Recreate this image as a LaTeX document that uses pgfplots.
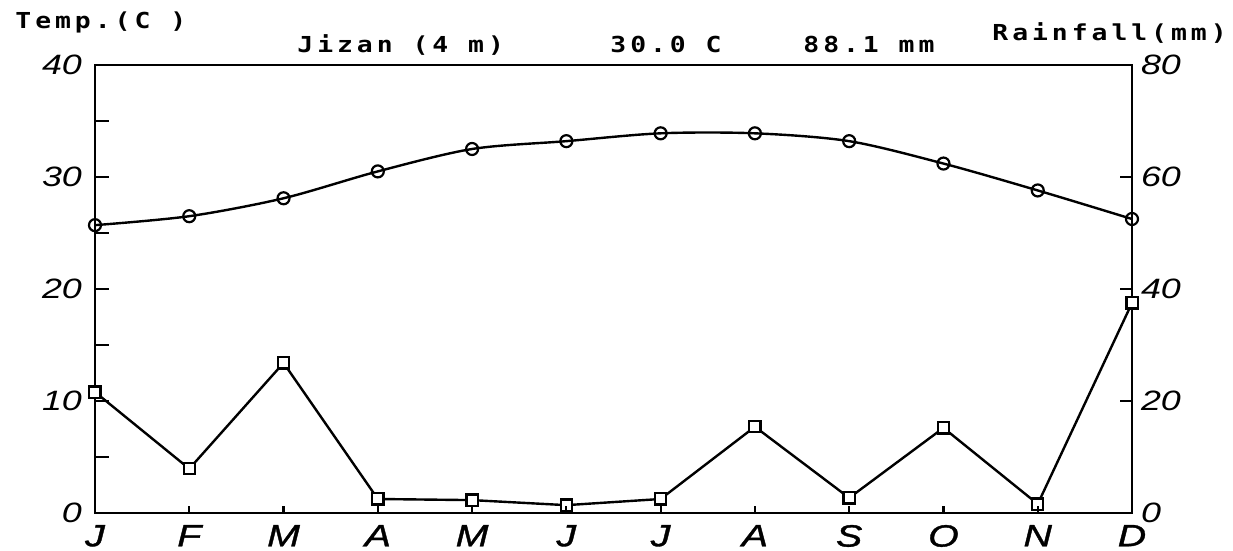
\documentclass[border=0pt]{standalone}
\usepackage{fontspec}
\usepackage{pgfplots}
\pgfplotsset{compat=1.18}
\newfontfamily\tickfont[FakeStretch=1.28]{Liberation Sans Italic}
\newfontfamily\monthfont[FakeStretch=1.28,FakeBold=1.2]{Liberation Sans Italic}
\newfontfamily\titlefont[FakeStretch=1.2,LetterSpace=18]{DejaVu Sans Mono Bold}
\pgfplotstableread{
m temp rain
0 25.7 21.6
1 26.5 7.9
2 28.1 26.8
3 30.5 2.5
4 32.5 2.3
5 33.2 1.4
6 33.9 2.5
7 33.9 15.4
8 33.2 2.7
9 31.2 15.2
10 28.8 1.6
11 26.25 37.5
}\datatab
\begin{document}
\begin{tikzpicture}
\useasboundingbox (-47.5pt,-19pt) rectangle (569pt,256.5pt);
\pgfplotsset{
  common/.style={
    at={(0pt,0pt)}, anchor=south west,
    scale only axis, width=518.5pt, height=224pt,
    xmin=0, xmax=11, clip=false,
    axis line style={line width=1.2pt},
    tick style={line width=1.1pt, black},
    tick align=inside,
    /pgf/number format/assume math mode=true,
  }
}
% left axis + frame + temperature
\begin{axis}[common,
  ymin=0, ymax=40,
  xtick=\empty,
  ytick={0,10,20,30,40}, minor ytick={5,15,25,35},
  ytick pos=left,
  major tick length=7pt, minor tick length=7pt,
  yticklabel style={font=\tickfont\fontsize{14}{16}\selectfont, xshift=-3pt},
]
\addplot[line width=1.2pt, smooth, mark=o, mark size=3pt,
  mark options={fill=white, line width=1.1pt}] table[x=m, y=temp] {\datatab};
\end{axis}
% right axis + rainfall
\begin{axis}[common,
  ymin=0, ymax=80,
  axis x line=none,
  axis y line*=right,
  ytick={0,20,40,60,80},
  major tick length=6pt,
  yticklabel style={font=\tickfont\fontsize{14}{16}\selectfont, xshift=1pt},
]
\addplot[line width=1.2pt, mark=square*, mark size=2.8pt,
  mark options={fill=white, line width=1.1pt}] table[x=m, y=rain] {\datatab};
\end{axis}
% month ticks
\begin{axis}[common,
  ymin=0, ymax=40,
  axis y line=none, axis x line*=bottom,
  xtick={0,...,11}, xticklabels={J,F,M,A,M,J,J,A,S,O,N,D},
  major tick length=3.5pt,
  xticklabel style={font=\monthfont\fontsize{15.4}{17}\selectfont, yshift=-2.5pt},
]
\end{axis}
\tikzset{ttl/.style={anchor=base west, inner sep=0pt, font=\titlefont\fontsize{11}{12}\selectfont}}
\node[ttl] at (-40pt,242pt) {Temp.(C )};
\node[ttl] at (101pt,230pt) {Jizan (4 m)};
\node[ttl] at (257.5pt,230pt) {30.0 C};
\node[ttl] at (354pt,230pt) {88.1 mm};
\node[ttl] at (448.5pt,236pt) {Rainfall(mm)};
\end{tikzpicture}
\end{document}
